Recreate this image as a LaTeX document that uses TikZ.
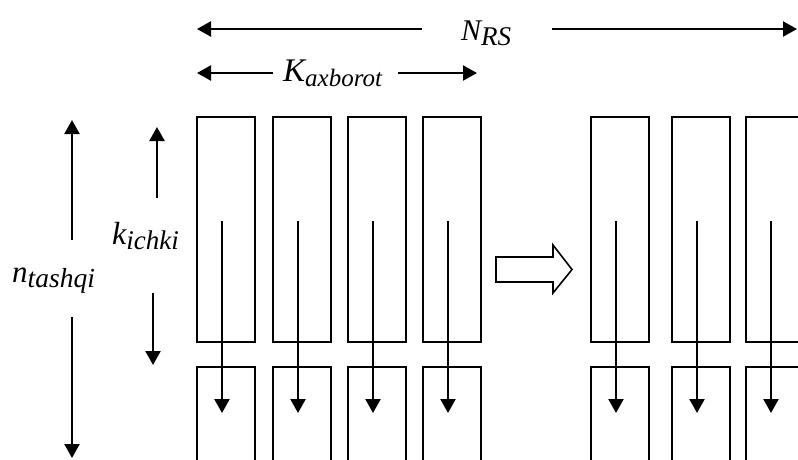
\documentclass[tikz,border=0pt]{standalone}
\usepackage{fontspec}
\setmainfont{Liberation Serif}
\newfontfamily\symfont{Liberation Serif}
\usetikzlibrary{arrows.meta,positioning,calc}
\definecolor{ink}{RGB}{0,0,0}
\tikzset{
  >={Triangle[length=14pt,width=15pt]},
  cell/.style={draw=ink,line width=1.6pt,minimum width=58pt,inner sep=0pt,anchor=north west},
  flow/.style={->,draw=ink,fill=ink,line width=2.3pt},
  dim/.style={->,draw=ink,fill=ink,line width=2.3pt},
  sym/.style={inner sep=0pt,anchor=base west,text=ink,font=\symfont\fontsize{#1}{#1}\selectfont\itshape},
  sym/.default=30,
}
\newcommand{\sublbl}[3][26]{#2{\fontsize{#1}{#1}\selectfont\raisebox{-5pt}{#3}}}

\begin{document}
\begin{tikzpicture}[x=1pt,y=-1pt]
  \useasboundingbox (0,0) rectangle (798,459);
  \clip (0,0) rectangle (798,459);
  % columns: upper block, lower block, flow arrow
  \foreach \x [count=\i] in {196,272,347,422,590,671,745}{
    \node[cell,minimum height=225pt] (u\i) at (\x,116) {};
    \node[cell,minimum height=130pt] (l\i) at (\x,366) {};
    \coordinate (s\i) at (\x+26,221);
    \coordinate (e\i) at (\x+26,413);
    \draw[flow] (s\i) -- (e\i);
  }
  % labels
  \node[sym=30] (nrs) at (461,40) {\sublbl[27]{N}{RS}};
  \node[sym=33] (kax) at (283,81) {\sublbl[25]{K}{axborot}};
  \node[sym=32] (kich) at (112,244) {\sublbl[27]{k}{ichki}};
  \node[sym=31] (ntash) at (12,282) {\sublbl[27.5]{n}{tashqi}};
  % dimension arrows
  \coordinate (nrsA) at (422,29); \coordinate (nrsL) at (197,29);
  \coordinate (nrsB) at (552,29); \coordinate (nrsR) at (797,29);
  \draw[dim] (nrsA) -- (nrsL);
  \draw[dim] (nrsB) -- (nrsR);
  \coordinate (kaxA) at (273,73); \coordinate (kaxL) at (197,73);
  \coordinate (kaxB) at (398,73); \coordinate (kaxR) at (477,73);
  \draw[dim] (kaxA) -- (kaxL);
  \draw[dim] (kaxB) -- (kaxR);
  \coordinate (ntA) at (72,240); \coordinate (ntT) at (72,120);
  \coordinate (ntB) at (72,317); \coordinate (ntD) at (72,458);
  \draw[dim] (ntA) -- (ntT);
  \draw[dim] (ntB) -- (ntD);
  \coordinate (kiA) at (157,198); \coordinate (kiT) at (157,127);
  \coordinate (kiB) at (153,293); \coordinate (kiD) at (153,365);
  \draw[dim] (kiA) -- (kiT);
  \draw[dim] (kiB) -- (kiD);
  % hollow transition arrow
  \draw[draw=ink,line width=1.6pt,fill=white] (496,257) -- (553,257) -- (553,245) -- (572,269.5)
    -- (553,293) -- (553,282) -- (496,282) -- cycle;
\end{tikzpicture}
\end{document}
